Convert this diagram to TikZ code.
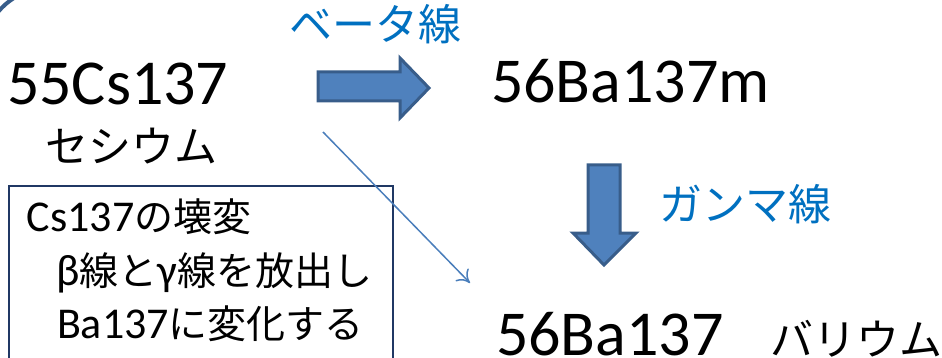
\documentclass[tikz,border=0pt]{standalone}
\usepackage{fontspec}
\setmainfont{Carlito}
\newfontfamily\jpfont{Noto Sans CJK JP}
\newcommand\jpt[1]{{\jpfont #1}}
\usetikzlibrary{arrows.meta}
\definecolor{lblue}{RGB}{0,112,192}
\definecolor{afill}{RGB}{79,129,189}
\definecolor{aline}{RGB}{56,93,138}
\definecolor{boxline}{RGB}{32,56,100}
\definecolor{thinblue}{RGB}{74,126,187}
\begin{document}
\begin{tikzpicture}[x=1pt,y=-1pt,
  txt/.style={inner sep=0pt,outer sep=0pt,anchor=base west},
  big/.style={txt,font=\fontsize{64}{70}\selectfont},
  kana/.style={txt,font=\fontsize{43}{48}\jpfont},
  lab/.style={kana,text=lblue},
  boxt/.style={txt,font=\fontsize{44}{50}\selectfont},
  fatarrow/.style={fill=afill,draw=aline,line width=3pt,line join=miter}]
\useasboundingbox (0,0) rectangle (942,358);
\begin{scope}
\clip (0,0) rectangle (942,358);
% corner arc
\draw[aline,line width=4pt] (-2,12) to[bend left=8] (14,-2);
% texts
\node[big] (cs) at (7,105) {55Cs137};
\node[kana] (csj) at (45,163) {セシウム};
\node[lab] (beta) at (289,41) {ベータ線};
\node[big] (bam) at (491,103) {56Ba137m};
\node[lab] (gam) at (659,220) {ガンマ線};
\node[big] (ba) at (496,355) {56Ba137\hspace{47pt}{\fontsize{43}{48}\jpfont バリウム}};
% beta arrow
\draw[fatarrow] (318,72) -- (400,72) -- (400,58) -- (429,88) -- (400,118) -- (400,101) -- (318,101) -- cycle;
% gamma arrow
\draw[fatarrow] (588,165) -- (620,165) -- (620,233) -- (636,233) -- (604,265) -- (573,233) -- (588,233) -- cycle;
% box
\draw[boxline,line width=2pt] (9,365) -- (9,186) -- (393,186) -- (393,365);
\node[boxt] (l1) at (27,232) {Cs137\jpt{\fontsize{39}{44}\selectfont の壊変}};
\node[boxt] (l2) at (56,285) {β\jpt{\fontsize{39}{44}\selectfont 線と}γ\jpt{\fontsize{39}{44}\selectfont 線を放出し}};
\node[boxt] (l3) at (57,338) {Ba137\jpt{\fontsize{39}{44}\selectfont に変化する}};
% thin arrow
\coordinate (t0) at (323,132);
\coordinate (t1) at (470,283);
\draw[thinblue,line width=1.5pt,-{To[length=12pt,width=18pt]}] (t0) -- (t1);
\end{scope}
\end{tikzpicture}
\end{document}
